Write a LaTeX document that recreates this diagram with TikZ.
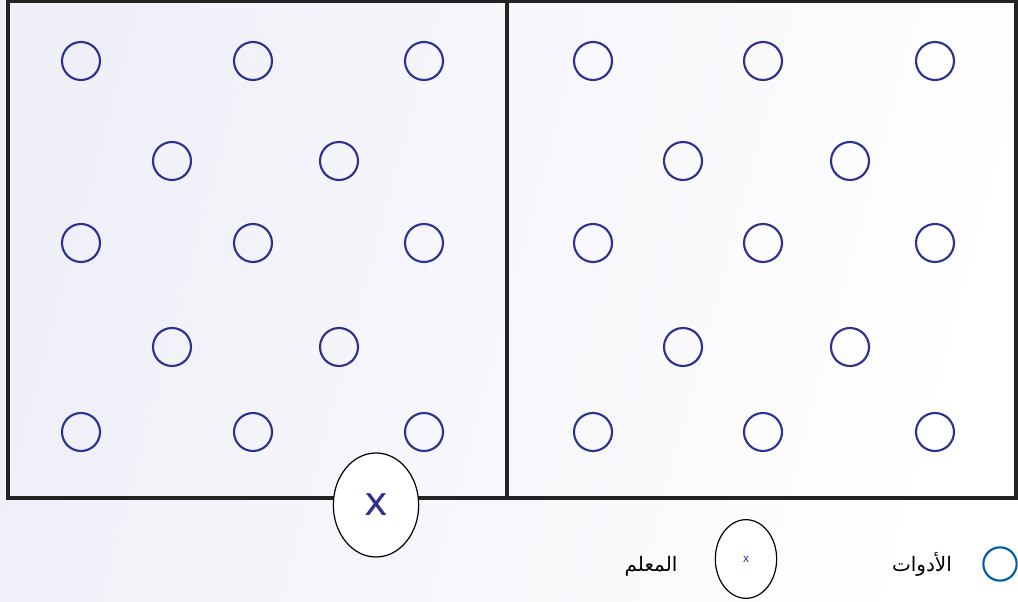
\documentclass[tikz,border=0pt]{standalone}
\usepackage{fontspec}
\setmainfont{Liberation Sans}
\newfontfamily\arabicfont[Script=Arabic]{DejaVu Sans}
\newfontfamily\teachfont{DejaVu Sans}
\TeXXeTstate=1
\usetikzlibrary{shapes.geometric}
\definecolor{dotblue}{RGB}{46,49,146}
\definecolor{legblue}{RGB}{0,94,168}
\definecolor{framegray}{RGB}{35,35,35}
\definecolor{bglav}{RGB}{239,239,248}
\tikzset{
  tool/.style={circle, draw=dotblue, line width=1.6pt, minimum size=28.5pt, inner sep=0pt},
  frameline/.style={draw=framegray, line width=2.4pt},
  teacher/.style={ellipse, draw=black, line width=0.9pt, fill=white, inner sep=0pt},
  label/.style={font=\arabicfont\fontsize{15}{18}\selectfont, text=black, inner sep=0pt}
}
\begin{document}
\begin{tikzpicture}[x=0.75pt, y=-0.75pt]
\useasboundingbox (0,0) rectangle (1018,602);
\shade[shading=axis, left color=bglav, right color=white, shading angle=75] (0,0) rectangle (1018,602);
% frames
\coordinate (tl) at (8,1);
\coordinate (br) at (1016,498);
\coordinate (mt) at (507,1);
\coordinate (mb) at (507,498);
\draw[frameline] (tl) rectangle (br);
\draw[frameline] (mt) -- (mb);
% left panel circles
\foreach \x/\y/\n in {81/61/a1, 253/61/a2, 424/61/a3,
                      172/161/a4, 339/161/a5,
                      81/243/a6, 253/243/a7, 424/243/a8,
                      172/347/a9, 339/347/a10,
                      81/432/a11, 253/432/a12, 424/432/a13}
  \node[tool] (\n) at (\x,\y) {};
% right panel circles
\foreach \x/\y/\n in {593/61/b1, 763/61/b2, 935/61/b3,
                      683/161/b4, 850/161/b5,
                      593/243/b6, 763/243/b7, 935/243/b8,
                      683/347/b9, 850/347/b10,
                      593/432/b11, 763/432/b12, 935/432/b13}
  \node[tool] (\n) at (\x,\y) {};
% teacher
\node[teacher, minimum width=64pt, minimum height=78pt, font=\teachfont\fontsize{30}{30}\selectfont, text=dotblue] (teach) at (376,505) {x};
% legend
\node[teacher, minimum width=46pt, minimum height=59pt, font=\fontsize{9}{9}\selectfont, text=dotblue] (legteach) at (746,559) {x};
\node[label, anchor=center] (lteach) at (651,566) {\beginR المعلم\endR};
\node[circle, draw=legblue, line width=1.6pt, minimum size=25pt, inner sep=0pt] (legtool) at (1000,564) {};
\node[label, anchor=center] (ltool) at (922,564) {\beginR الأدوات\endR};
\end{tikzpicture}
\end{document}
